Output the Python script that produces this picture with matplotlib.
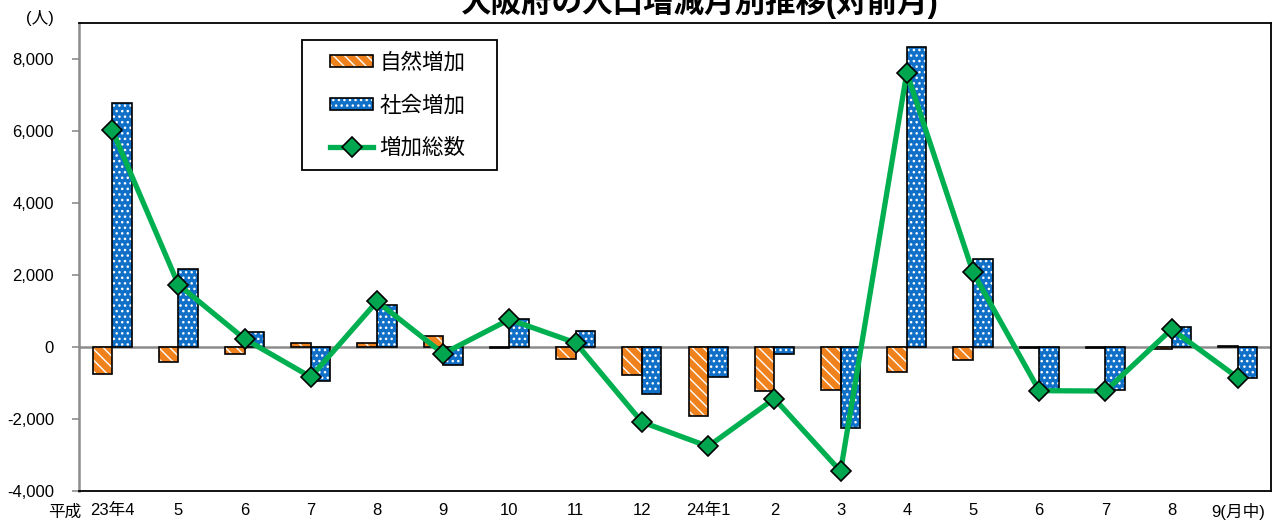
import numpy as np
import matplotlib.pyplot as plt
from matplotlib.lines import Line2D
from matplotlib.patches import Patch, Rectangle
from matplotlib.ticker import FuncFormatter

plt.rcParams['font.family'] = ['Liberation Sans', 'Noto Sans CJK JP']

# Data
months = ["23年4", "5", "6", "7", "8", "9", "10", "11", "12",
          "24年1", "2", "3", "4", "5", "6", "7", "8", "9(月中)"]
natural = [-750, -420, -200, 110, 110, 310, -20, -330, -780,
           -1930, -1230, -1200, -700, -360, -20, -20, -70, 20]
social = [6780, 2150, 420, -950, 1150, -500, 780, 440, -1310,
          -840, -210, -2260, 8320, 2430, -1200, -1200, 560, -880]
total = [6030, 1730, 220, -840, 1260, -190, 760, 110, -2090,
         -2770, -1440, -3460, 7620, 2070, -1220, -1230, 490, -860]

orange = '#f0821e'
blue = '#1070c8'
green = '#00b050'

fig = plt.figure(figsize=(12.74, 5.23), dpi=100)
ax = fig.add_axes([79 / 1274, 32.3 / 523, 1192 / 1274, 467.7 / 523])

x = np.arange(len(months))
w = 0.295

# natural increase: orange with white diagonal stripes
ax.bar(x - w / 2, natural, w, color=orange, edgecolor='white', hatch='\\\\\\', linewidth=0, zorder=2)
ax.bar(x - w / 2, natural, w, facecolor='none', edgecolor='black', linewidth=1.2, zorder=3)
# social increase: blue with white dots
ax.bar(x + w / 2, social, w, color=blue, edgecolor='white', hatch='...', linewidth=0, zorder=2)
ax.bar(x + w / 2, social, w, facecolor='none', edgecolor='black', linewidth=1.2, zorder=3)

ax.axhline(0, color='#8c8c8c', linewidth=1.8, zorder=1)

ax.plot(x, total, color=green, linewidth=3.8, marker='D', markersize=10,
        markerfacecolor='#00a54f', markeredgecolor='black', markeredgewidth=1.2, zorder=4)

ax.set_xlim(-0.5, 17.5)
ax.set_ylim(-4000, 9000)
ax.set_yticks(np.arange(-4000, 8001, 2000))
ax.yaxis.set_major_formatter(FuncFormatter(lambda v, p: f"{int(v):,}"))
ax.tick_params(axis='y', direction='out', length=5, width=1.2, color='#8c8c8c', labelsize=12, pad=13)
ax.set_xticks(x)
ax.set_xticklabels(months)
ax.tick_params(axis='x', length=0, labelsize=12, pad=9)

for s in ['top', 'right', 'bottom']:
    ax.spines[s].set_color('black')
    ax.spines[s].set_linewidth(1.3)
ax.spines['left'].set_color('#8c8c8c')
ax.spines['left'].set_linewidth(1.8)

fig.text(65 / 1274, 1 - 512 / 523, "平成", fontsize=12, ha='center', va='center')
fig.text(40 / 1274, 1 - 18 / 523, "(人)", fontsize=12, ha='center', va='center')
fig.text(700 / 1274, 1 - 2 / 523, "大阪府の人口増減月別推移(対前月)", fontsize=22,
         fontweight='bold', ha='center', va='center')

# legend box drawn separately so the padding matches the original
ax.add_patch(Rectangle((302 / 1274, 1 - 170 / 523), 195 / 1274, 130 / 523,
                       transform=fig.transFigure, facecolor='white', clip_on=False,
                       edgecolor='black', linewidth=1.3, zorder=5))

handles = [
    (Patch(facecolor=orange, edgecolor='white', hatch='\\\\\\', linewidth=0),
     Patch(facecolor='none', edgecolor='black', linewidth=1.2)),
    (Patch(facecolor=blue, edgecolor='white', hatch='...', linewidth=0),
     Patch(facecolor='none', edgecolor='black', linewidth=1.2)),
    Line2D([], [], color=green, linewidth=3.8, marker='D', markersize=10,
           markerfacecolor='#00a54f', markeredgecolor='black', markeredgewidth=1.2),
]
leg = ax.legend(handles, ["自然増加", "社会増加", "増加総数"], loc='upper left',
                bbox_to_anchor=(330 / 1274, 1 - 53 / 523), bbox_transform=fig.transFigure,
                borderaxespad=0, borderpad=0, fontsize=15.5, frameon=False,
                labelspacing=1.0, handlelength=2.0, handleheight=0.5, handletextpad=0.3)
leg.set_zorder(6)

fig.savefig('out.png', dpi=100)
